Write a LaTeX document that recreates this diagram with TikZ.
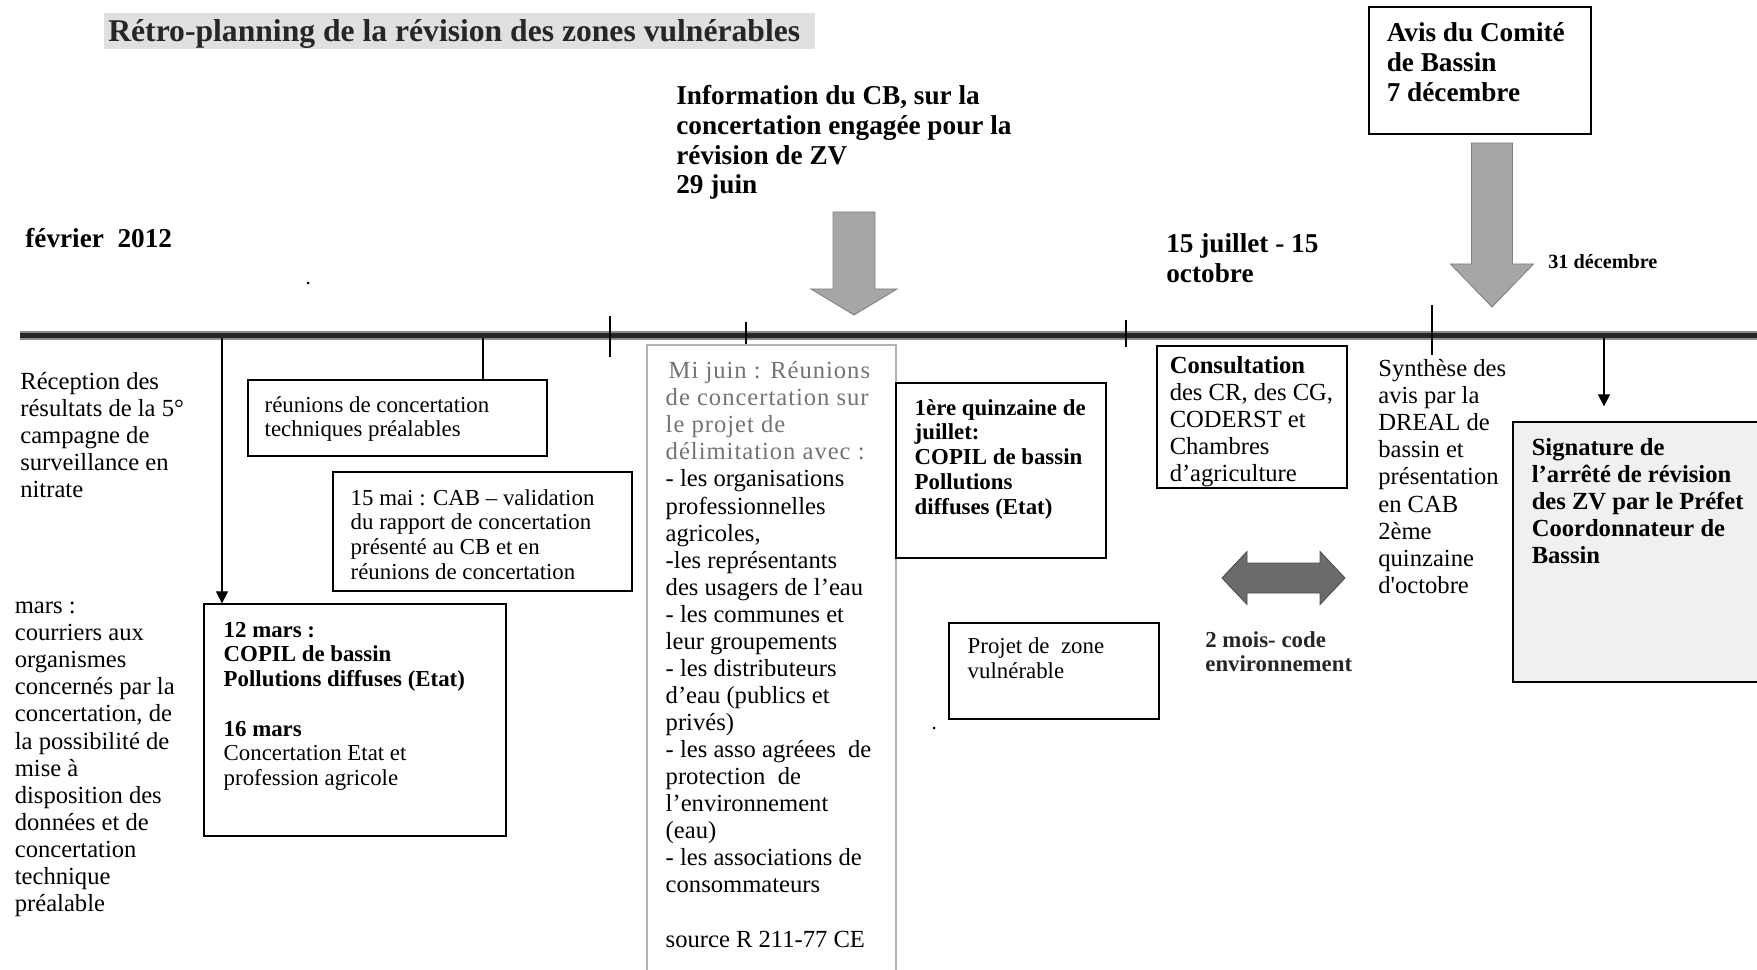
\documentclass[tikz,border=0pt]{standalone}
\usepackage{fontspec}
\setmainfont{Liberation Serif}
\usetikzlibrary{fit}
\usetikzlibrary{calc}
\usetikzlibrary{arrows.meta}

\newcommand{\txtbody}{\fontsize{14}{15.4}\selectfont}
\newcommand{\txtsmall}{\fontsize{13}{14.1}\selectfont}
\newcommand{\txthead}{\fontsize{15.5}{17}\selectfont\bfseries}
\newcommand{\dimline}[1]{{\color{black!55}\addfontfeature{LetterSpace=4}#1}}

\begin{document}
\begin{tikzpicture}[x=0.2mm, y=-0.2mm,
  event/.style={draw, rectangle, line width=0.7pt, inner sep=0pt},
  note/.style={anchor=north west, align=left, inner sep=0pt, font=\txtbody},
  boxtext/.style={note, font=\txtsmall},
  headline/.style={note, font=\txthead},
  tickmark/.style={line width=0.6pt},
  arr/.style={line width=0.6pt, -{Triangle[length=2.4mm, width=2.4mm]}},
  bigarr/.style={fill=black!35, draw=black!50, line width=0.5pt},
]
\useasboundingbox (0,0) rectangle (1757,970);

\fill[black!12] (104,13) rectangle (815,49);
\node (title) [anchor=base west, inner sep=0pt, text=black!85, font=\fontsize{18}{20}\selectfont\bfseries] at (108,42) {Rétro-planning de la révision des zones vulnérables};

\node (info) [headline] at (676,83) {\strut Information du CB, sur la\\concertation engagée pour la\\révision de ZV\\29 juin};
\node (fev) [headline] at (25,226) {\strut février\ \ 2012};
\node (oct) [headline] at (1166,231) {\strut 15 juillet - 15\\octobre};
\node (dec) [anchor=base west, inner sep=0pt, font=\fontsize{11.5}{13}\selectfont\bfseries] at (1548,269) {31 décembre};

\node (avis) [event, fit={(1369,7) (1591,134)}] {};
\node (avistxt) [headline] at ([shift={(18,14)}]avis.north west) {\strut Avis du Comité\\de Bassin\\7 décembre};

\coordinate (juin) at (854,315);
\coordinate (decb) at (1492,307);
\draw[bigarr, shift={(juin)}] (0,0) -- (-43,-26) -- (-21,-26) -- (-21,-103) -- (21,-103) -- (21,-26) -- (43,-26) -- cycle;
\draw[bigarr, shift={(decb)}] (0,0) -- (-41.5,-43) -- (-20.5,-43) -- (-20.5,-164) -- (20.5,-164) -- (20.5,-43) -- (41.5,-43) -- cycle;

\coordinate (t0) at (20,335);
\coordinate (t1) at (1757,335);
\draw[black!45, line width=1.8mm] (t0) -- (t1);
\draw[black!85, line width=1mm] (t0) -- (t1);

\draw[tickmark] (610,316) -- (610,357);
\draw[tickmark] (746,322) -- (746,346);
\draw[tickmark] (1126,320) -- (1126,347);
\draw[tickmark] (1432,305) -- (1432,355);

\fill (308,283) circle (1.5);
\fill (934,728) circle (1.5);

\node (recep) [note] at (20,370.4) {\strut Réception des\\résultats de la 5°\\campagne de\\surveillance en\\nitrate};
\node (mars) [note] at (14.5,594.4) {\strut mars :\\courriers aux\\organismes\\concernés par la\\concertation, de\\la possibilité de\\mise à\\disposition des\\données et de\\concertation\\technique\\préalable};

\node (reun) [event, fit={(248,380) (547,456)}] {};
\node (reuntxt) [boxtext] at ([shift={(17,15)}]reun.north west) {\strut réunions de concertation\\techniques préalables};

\node (mai) [event, fit={(333,472) (632,591)}] {};
\node (maitxt) [boxtext] at ([shift={(18,16)}]mai.north west) {\strut 15 mai : CAB -- validation\\du rapport de concertation\\présenté au CB et en\\réunions de concertation};

\node (copil) [event, fit={(204,604) (506,836)}] {};
\node (copiltxt) [boxtext] at ([shift={(20,16)}]copil.north west) {\strut\textbf{12 mars :}\\\textbf{COPIL de bassin}\\\textbf{Pollutions diffuses (Etat)}\\\strut\\\textbf{16 mars}\\Concertation Etat et\\profession agricole};

\node (mijuin) [event, draw=black!30, fit={(647,345) (896,975)}] {};
\node (mijuintxt) [note] at ([shift={(19,15)}]mijuin.north west) {\strut\hspace{1.7pt}\dimline{Mi juin : Réunions}\\\dimline{de concertation sur}\\\dimline{le projet de}\\\dimline{délimitation avec :}\\- les organisations\\professionnelles\\agricoles,\\-les représentants\\des usagers de l’eau\\- les communes et\\leur groupements\\- les distributeurs\\d’eau (publics et\\privés)\\- les asso agréees\ \ de\\protection\ \ de\\l’environnement\\(eau)\\- les associations de\\consommateurs\\\strut\\source R 211-77 CE};

\node (juil) [event, fit={(896,383) (1106,558)}] {};
\node (juiltxt) [boxtext, font=\txtsmall\bfseries] at ([shift={(19,15)}]juil.north west) {\strut 1ère quinzaine de\\juillet:\\COPIL de bassin\\Pollutions\\diffuses (Etat)};

\node (projet) [event, fit={(949,623) (1159,719)}] {};
\node (projettxt) [boxtext] at ([shift={(19,13.5)}]projet.north west) {\strut Projet de\ \ zone\\vulnérable};

\node (consult) [event, fit={(1157,346) (1347,488)}] {};
\node (consulttxt) [note] at ([shift={(13,8.5)}]consult.north west) {\strut\textbf{Consultation}\\des CR, des CG,\\CODERST et\\Chambres\\d’agriculture};

\draw[bigarr, fill=black!58, draw=black!70] (1222,578) -- (1247,551.5) -- (1247,563) -- (1320,563) -- (1320,551.5) -- (1345,578) -- (1320,604.5) -- (1320,593) -- (1247,593) -- (1247,604.5) -- cycle;
\node (mois) [boxtext, font=\txtsmall\bfseries, text=black!85] at (1205,629.5) {\strut 2 mois- code\\environnement};

\node (synth) [note] at (1378,357.4) {\strut Synthèse des\\avis par la\\DREAL de\\bassin et\\présentation\\en CAB\\2ème\\quinzaine\\d\textquotesingle octobre};

\node (signat) [event, fill=black!6, fit={(1513,422) (1775,682)}] {};
\node (signattxt) [note, font=\txtbody\bfseries] at ([shift={(19,14.4)}]signat.north west) {\strut Signature de\\l’arrêté de révision\\des ZV par le Préfet\\Coordonnateur de\\Bassin};

\coordinate (m1) at (222,338);
\coordinate (m2) at (483,338);
\coordinate (m3) at (1604,338);
\draw[arr] (m1) -- (m1 |- copil.north);
\draw[tickmark] (m2) -- (m2 |- reun.north);
\draw[arr, shorten >=3mm] (m3) -- (m3 |- signat.north);
\end{tikzpicture}
\end{document}
